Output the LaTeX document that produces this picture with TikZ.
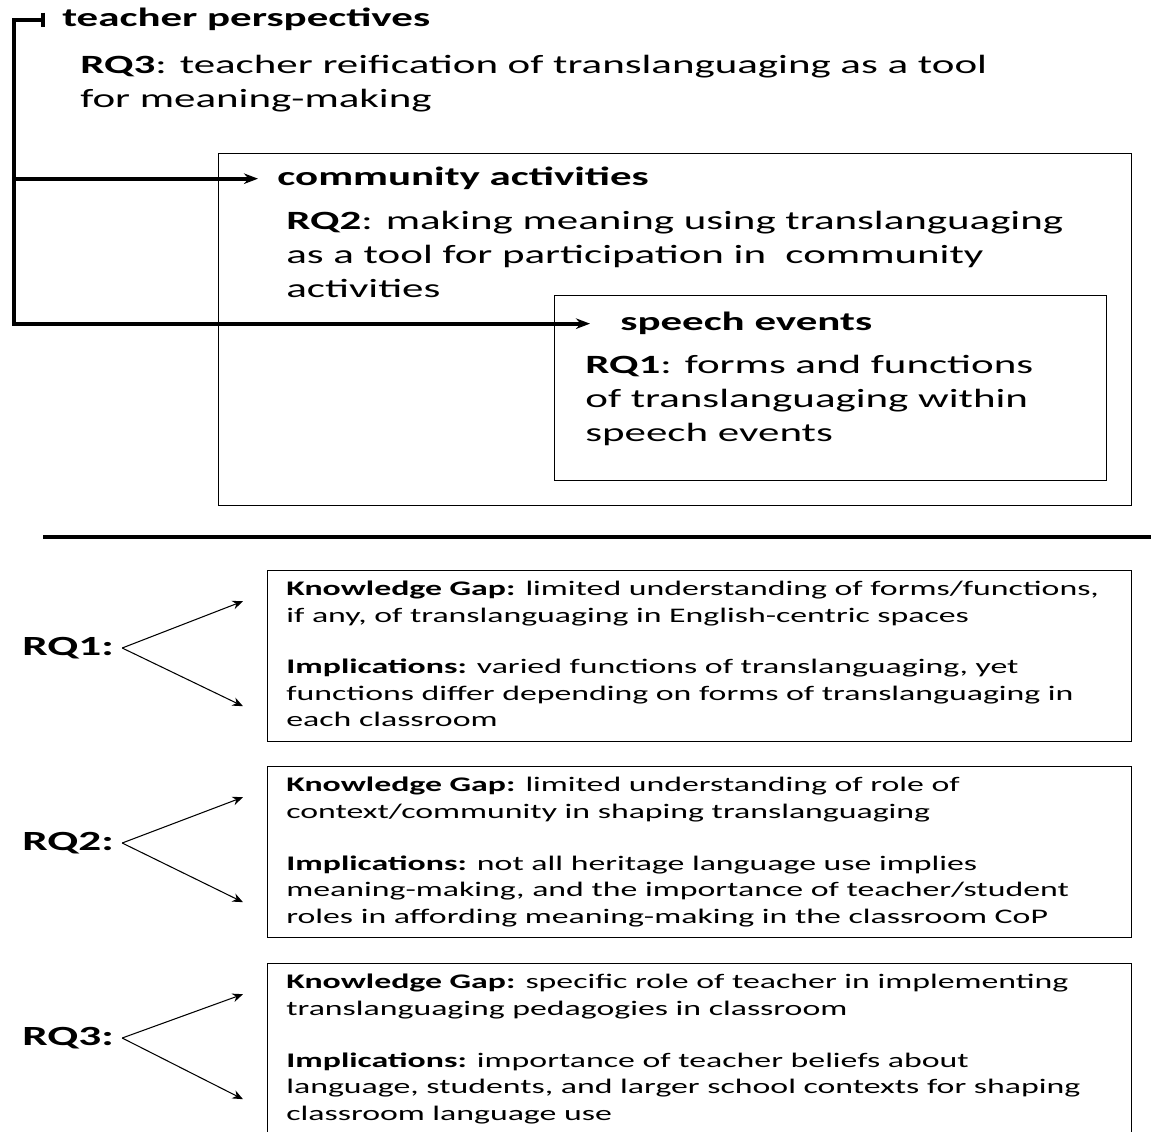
\documentclass[tikz,border=0pt]{standalone}
\usepackage{fontspec}
\setmainfont{Carlito}[FakeStretch=1.63]
\usetikzlibrary{arrows.meta}

\begin{document}
\begin{tikzpicture}[
  x=0.02cm, y=-0.02cm,
  frame/.style={draw, line width=0.8pt, inner sep=0, anchor=north west},
  head/.style={font=\fontsize{15}{19.2}\selectfont\bfseries, inner sep=0, anchor=north west},
  body/.style={font=\fontsize{15}{19.2}\selectfont, align=left, inner sep=0, anchor=north west},
  boxtext/.style={font=\fontsize{11.8}{15.1}\selectfont, align=left, inner sep=0, anchor=north west},
  rqlabel/.style={font=\fontsize{15.8}{19.2}\selectfont\bfseries, inner sep=0, anchor=west},
  link/.style={line width=2.2pt},
  fork/.style={line width=0.6pt, -{Stealth[length=6pt,width=5pt]}}
]
\clip (0,0) rectangle (1151,1131);

% ------------------------------------------------------------
% Top part: nested levels of analysis
% ------------------------------------------------------------
\node[frame, minimum width=18.26cm, minimum height=7.04cm] (outer) at (218,153) {};
\node[frame, minimum width=11.04cm, minimum height=3.7cm] (inner) at (554,295) {};

\node[head] (persp) at (62,8) {teacher perspectives};
\node[body] (rq3top) at (80,55)
  {\textbf{RQ3}: teacher reification of translanguaging as a tool\\
   for meaning-making};

\node[head] (comm) at (277,167) {community activities};
\node[body] (rq2top) at (286,211)
  {\textbf{RQ2}: making meaning using translanguaging\\
   as a tool for participation in\ \ community\\
   activities};

\node[head] (speech) at (620,312) {speech events};
\node[body] (rq1top) at (585,355)
  {\textbf{RQ1}: forms and functions\\
   of translanguaging within\\
   speech events};

% bracket on the left
\coordinate (spine) at (14,0);
\draw[link, {Bar[width=8pt]}-{Stealth[length=8pt,width=6pt]}]
  ([shift={(-17,0)}]persp.west) -- (spine |- persp.west)
  -- (spine |- speech.west) -- ([shift={(-30,0)}]speech.west);
\draw[link, -{Stealth[length=8pt,width=6pt]}]
  (spine |- comm.west) -- ([shift={(-19,0)}]comm.west);

% separator
\draw[line width=2.8pt] (43,537) -- (1151,537);

% ------------------------------------------------------------
% Bottom part: knowledge gaps and implications
% ------------------------------------------------------------
\node[frame, minimum width=17.28cm, minimum height=3.42cm] (box1) at (267,570) {};
\node[frame, minimum width=17.28cm, minimum height=3.42cm] (box2) at (267,766) {};
\node[frame, minimum width=17.28cm, minimum height=3.42cm] (box3) at (267,963) {};

\node[boxtext] (text1) at ([shift={(19,11)}]box1.north west)
  {\textbf{Knowledge Gap:} limited understanding of forms/functions,\\
   if any, of translanguaging in English-centric spaces\\[14pt]
   \textbf{Implications:} varied functions of translanguaging, yet\\
   functions differ depending on forms of translanguaging in\\
   each classroom};

\node[boxtext] (text2) at ([shift={(19,11)}]box2.north west)
  {\textbf{Knowledge Gap:} limited understanding of role of\\
   context/community in shaping translanguaging\\[14.5pt]
   \textbf{Implications:} not all heritage language use implies\\
   meaning-making, and the importance of teacher/student\\
   roles in affording meaning-making in the classroom CoP};

\node[boxtext] (text3) at ([shift={(19,11)}]box3.north west)
  {\textbf{Knowledge Gap:} specific role of teacher in implementing\\
   translanguaging pedagogies in classroom\\[14.5pt]
   \textbf{Implications:} importance of teacher beliefs about\\
   language, students, and larger school contexts for shaping\\
   classroom language use};

\node[rqlabel] (rq1) at (22,648) {RQ1:};
\node[rqlabel] (rq2) at (22,843) {RQ2:};
\node[rqlabel] (rq3) at (22,1038) {RQ3:};

\foreach \i in {1,2,3} {
  \draw[fork] ([shift={(8,0)}]rq\i.east) -- ([shift={(-24,-55)}]box\i.west);
  \draw[fork] ([shift={(8,0)}]rq\i.east) -- ([shift={(-24,50)}]box\i.west);
}

\end{tikzpicture}
\end{document}
